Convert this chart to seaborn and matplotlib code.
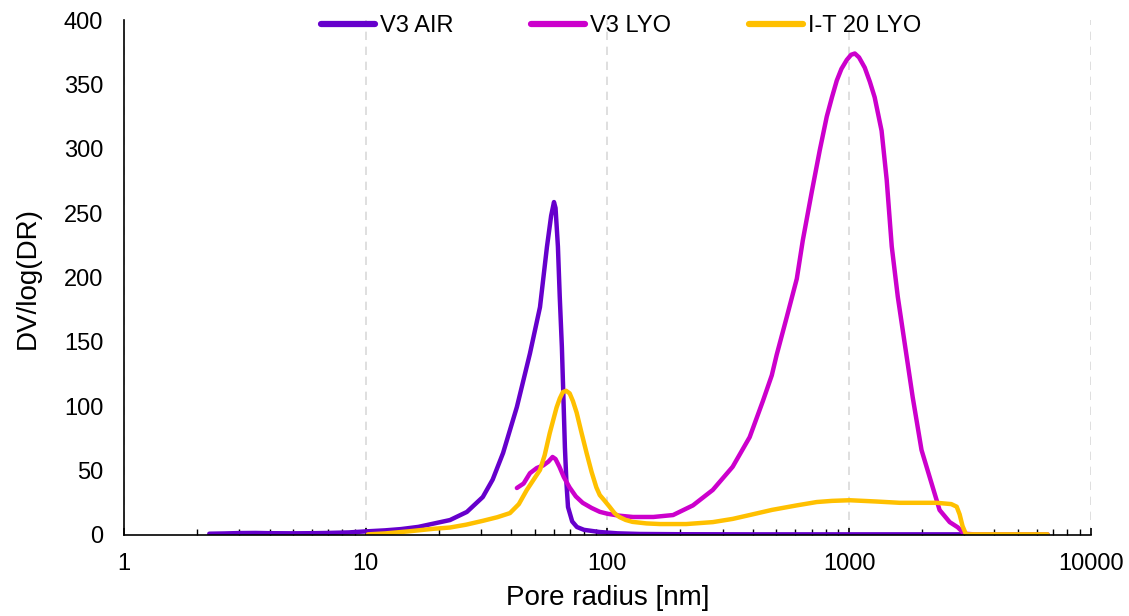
import numpy as np
import pandas as pd
import matplotlib
matplotlib.use("Agg")
import matplotlib.pyplot as plt
import seaborn as sns

# Pore size distributions: pore radius [nm] vs DV/log(DR)
v3_air_r = [2.25, 2.6, 3.0, 3.5, 4.0, 5.0, 6.0, 7.0, 8.5, 10.0, 12.0, 14.0, 16.5, 19.0,
            22.3, 26.2, 30.5, 33.5, 37.0, 42.2, 47.8, 52.6, 56.2, 58.5, 60.1, 61.0,
            62.4, 63.5, 64.8, 65.8, 66.7, 67.7, 68.7, 71.5, 74.8, 80.0, 93.0, 110.0,
            136.0, 200.0, 400.0, 800.0, 1500.0, 3000.0]
v3_air_y = [1.0, 1.2, 1.5, 1.6, 1.4, 1.3, 1.4, 1.6, 2.0, 2.8, 3.6, 4.6, 6.3, 8.8,
            11.6, 17.9, 29.5, 43.0, 63.7, 99.4, 141.0, 177.0, 223.7, 248.0, 258.6, 254.0,
            224.0, 185.0, 146.0, 105.0, 68.0, 40.0, 21.7, 10.5, 6.2, 4.0, 2.3, 1.3,
            0.8, 0.6, 0.5, 0.5, 0.5, 0.5]

v3_lyo_r = [42.2, 45.0, 47.8, 51.0, 54.2, 57.0, 59.3, 61.0, 63.3, 66.0, 69.7, 74.0,
            79.0, 86.0, 93.0, 100.0, 112.0, 127.5, 155.0, 187.0, 226.0, 273.0, 330.0,
            388.0, 440.0, 479.0, 502.0, 552.0, 608.0, 644.0, 702.0, 757.0, 809.0,
            850.0, 890.0, 930.0, 979.0, 1020.0, 1057.0, 1100.0, 1162.0, 1220.0, 1277.0,
            1364.0, 1432.0, 1503.0, 1592.0, 1669.0, 1835.0, 1996.0, 2197.0, 2371.0,
            2611.0, 2818.0, 3000.0, 3300.0, 4500.0, 6640.0]
v3_lyo_y = [36.5, 40.0, 48.0, 52.0, 54.0, 57.0, 60.6, 59.0, 53.0, 45.0, 37.0, 30.0,
            25.0, 21.0, 18.0, 16.5, 15.0, 14.0, 14.0, 15.5, 23.0, 35.0, 53.0,
            76.0, 104.0, 124.0, 140.0, 169.0, 199.0, 229.0, 267.0, 299.0, 325.0,
            340.0, 353.0, 362.0, 369.0, 373.0, 374.0, 371.0, 363.0, 352.0, 340.0,
            314.0, 276.0, 224.0, 185.0, 159.0, 107.0, 66.0, 40.0, 19.4,
            10.0, 6.0, 1.0, 0.5, 0.5, 0.5]

it20_lyo_r = [10.2, 12.0, 15.0, 19.0, 22.3, 26.0, 30.5, 35.0, 39.5, 43.0, 46.4, 49.5,
              52.6, 55.0, 57.7, 61.6, 63.5, 65.4, 67.5, 69.8, 72.0, 74.6, 78.0, 82.0,
              86.0, 90.0, 93.0, 97.0, 102.0, 107.0, 112.0, 119.0, 127.0, 145.0, 165.0,
              212.0, 273.0, 330.0, 388.0, 480.0, 608.0, 735.0, 850.0, 1007.0, 1300.0,
              1622.0, 2306.0, 2650.0, 2790.0, 2870.0, 2950.0, 3050.0, 4000.0, 6640.0]
it20_lyo_y = [0.5, 1.2, 2.8, 4.8, 5.8, 8.0, 11.0, 13.8, 17.0, 24.0, 35.0, 43.0,
              50.5, 62.0, 79.0, 99.0, 106.0, 111.0, 112.0, 110.0, 104.0, 95.0, 80.0, 63.7,
              49.0, 37.0, 31.0, 27.0, 22.0, 17.0, 14.0, 11.7, 10.2, 9.0, 8.5,
              8.5, 10.0, 12.5, 15.5, 19.5, 23.0, 25.6, 26.5, 27.0, 26.0,
              25.0, 25.0, 24.0, 22.0, 16.0, 7.0, 0.5, 0.5, 0.5]

series = ["V3 AIR", "V3 LYO", "I-T 20 LYO"]
colors = ["#6600CC", "#CC00CC", "#FFC000"]

df = pd.concat([
    pd.DataFrame({"r": v3_air_r, "y": v3_air_y, "sample": series[0]}),
    pd.DataFrame({"r": v3_lyo_r, "y": v3_lyo_y, "sample": series[1]}),
    pd.DataFrame({"r": it20_lyo_r, "y": it20_lyo_y, "sample": series[2]}),
], ignore_index=True)

sns.set_theme(style="white")
plt.rcParams["font.family"] = ["Liberation Sans", "DejaVu Sans"]

fig = plt.figure(figsize=(11.29, 6.16), dpi=100)
ax = fig.add_axes([0.110, 0.1315, 0.856, 0.836])

sns.lineplot(data=df, x="r", y="y", hue="sample", hue_order=series,
             palette=colors, linewidth=3.2, sort=False, estimator=None,
             ax=ax, solid_capstyle="round", solid_joinstyle="round")

ax.set_xscale("log")
ax.set_xlim(1, 10000)
ax.set_ylim(0, 400)
ax.set_yticks(np.arange(0, 401, 50))
ax.set_xticks([1, 10, 100, 1000, 10000])
ax.set_xticklabels(["1", "10", "100", "1000", "10000"])

ax.xaxis.grid(True, which="major", color="#d9d9d9", linestyle=(0, (5, 4)), linewidth=1.2)
ax.yaxis.grid(False)
ax.set_axisbelow(True)

for side in ["top", "right"]:
    ax.spines[side].set_visible(False)
for side in ["left", "bottom"]:
    ax.spines[side].set_color("black")
    ax.spines[side].set_linewidth(1.2)

ax.tick_params(axis="x", which="major", direction="in", length=5, width=1.2,
               color="black", labelsize=17, labelcolor="black", pad=13, bottom=True)
ax.tick_params(axis="x", which="minor", direction="in", length=4, width=1.0,
               color="black", bottom=True)
ax.tick_params(axis="y", which="both", length=0, labelsize=17, labelcolor="black", pad=15)

ax.set_xlabel("Pore radius [nm]", fontsize=20, labelpad=7, color="black")
ax.set_ylabel("DV/log(DR)", fontsize=20, labelpad=17, color="black")

handles, labels = ax.get_legend_handles_labels()
leg = ax.legend(handles, labels, loc="center", bbox_to_anchor=(0.514, 0.988),
                ncol=3, frameon=False, fontsize=17, handlelength=2.3,
                handletextpad=0.2, columnspacing=3.3)
for line in leg.get_lines():
    line.set_linewidth(4.5)
    line.set_solid_capstyle("round")
for text in leg.get_texts():
    text.set_color("black")

fig.savefig("out.png", dpi=100)
